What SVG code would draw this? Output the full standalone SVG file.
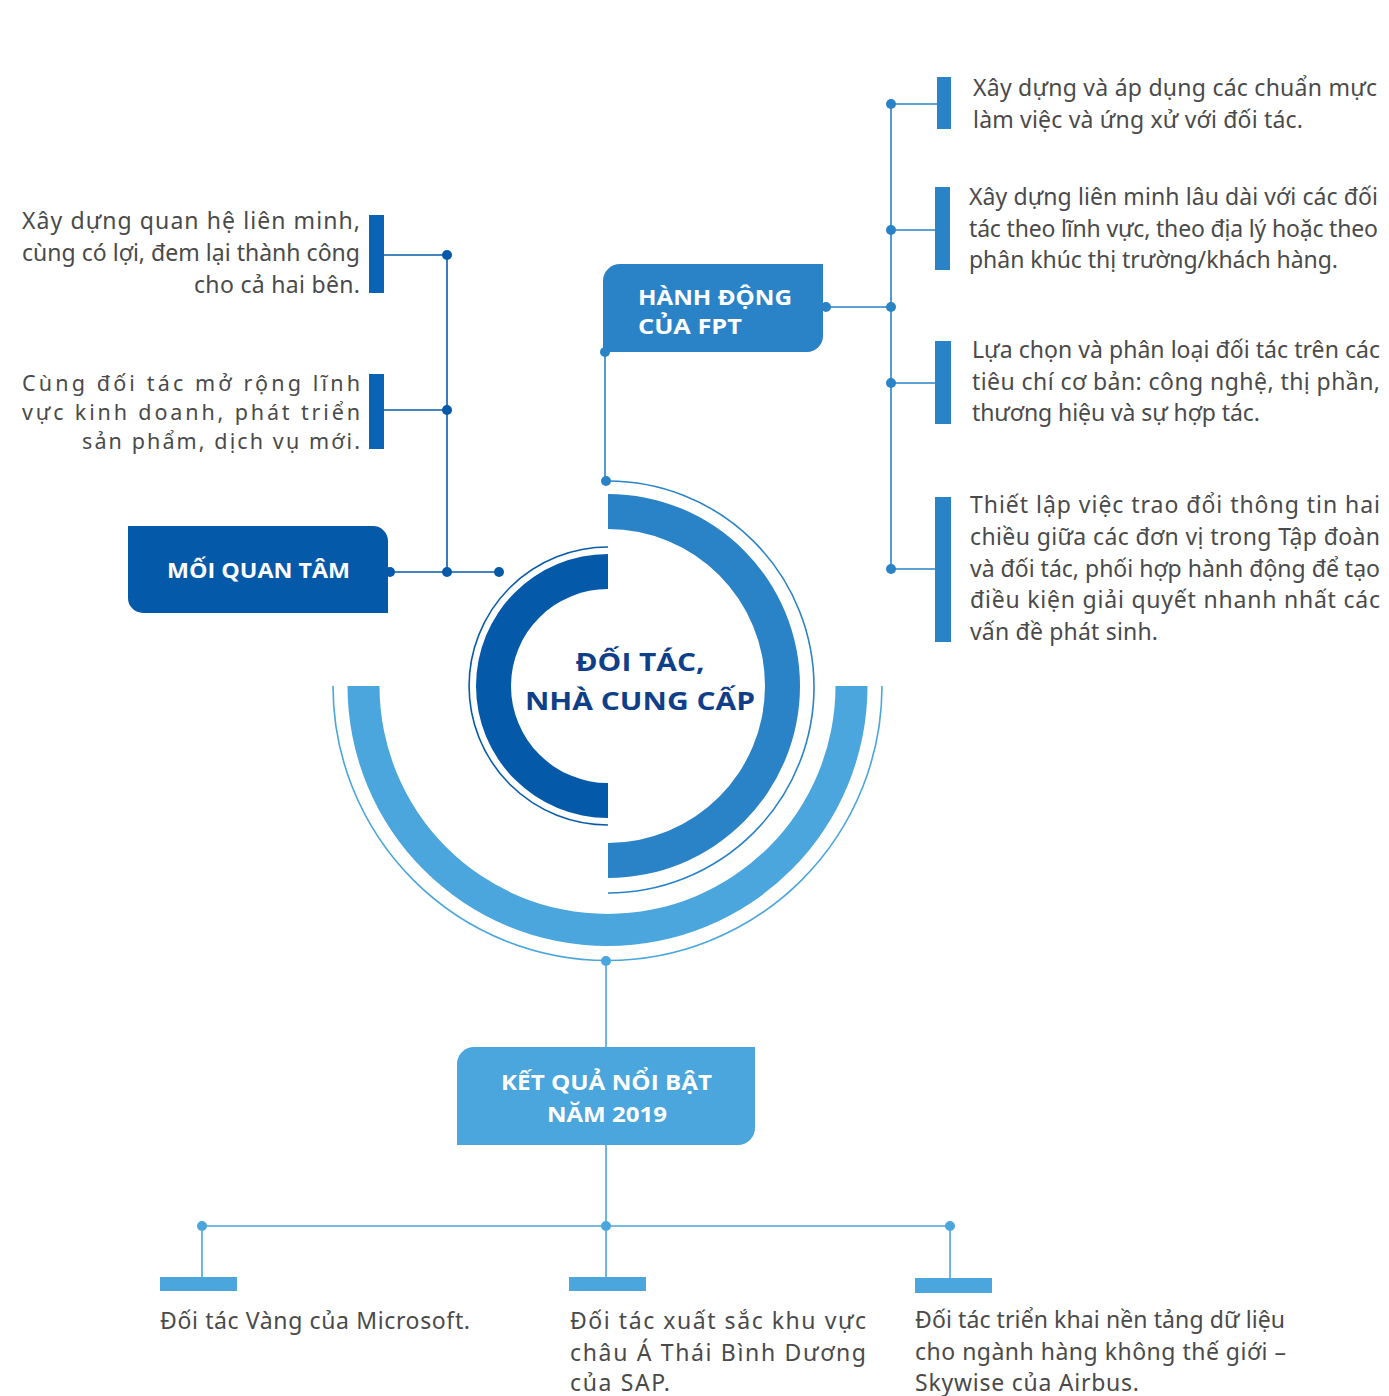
<svg xmlns="http://www.w3.org/2000/svg" width="1389" height="1396" viewBox="0 0 1389 1396">
<style>
.body{font-family:"Noto Sans","Open Sans","DejaVu Sans",sans-serif;font-size:23px;fill:#4a4a4a}
.tight{font-size:21.5px}
.head{font-family:"Open Sans","Noto Sans","DejaVu Sans",sans-serif;font-size:22px;font-weight:700;fill:#ffffff}
.center{font-family:"Open Sans","Noto Sans","DejaVu Sans",sans-serif;font-size:25px;font-weight:700;fill:#0f3f88}
.ln-d{stroke:#0a5cab;stroke-width:1.6;fill:none}
.ln-m{stroke:#2a83c7;stroke-width:1.6;fill:none}
.ln-l{stroke:#4aa6dc;stroke-width:1.6;fill:none}
.dot-d{fill:#0559a9}
.dot-m{fill:#2a83c7}
.dot-l{fill:#4aa6dc}
</style>
<rect width="1389" height="1396" fill="#ffffff"/>

<g id="center-rings">
  <path d="M608,554 A132,132 0 0 0 608,818 V783 A97,97 0 0 1 608,589 Z" fill="#0559a9"/>
  <path d="M608,547 A139,139 0 0 0 608,825" class="ln-d" stroke-width="1.3"/>
  <path d="M608,494 A192,192 0 0 1 608,878 V843 A157,157 0 0 0 608,529 Z" fill="#2a83c7"/>
  <path d="M608,481 A206,206 0 0 1 608,893" class="ln-m" stroke-width="1.3"/>
  <path d="M347.5,686 A260,260 0 0 0 867.5,686 H835.5 A228,228 0 0 1 379.5,686 Z" fill="#4aa6dc"/>
  <path d="M333,686 A274.5,274.5 0 0 0 882,686" class="ln-l" stroke-width="1.3"/>
  <text class="center" x="640" y="671" text-anchor="middle" textLength="129" lengthAdjust="spacingAndGlyphs">ĐỐI TÁC,</text>
  <text class="center" x="640" y="710" text-anchor="middle" textLength="230" lengthAdjust="spacingAndGlyphs">NHÀ CUNG CẤP</text>
</g>

<g id="connectors">
  <path class="ln-d" d="M384,255 H447 M384,410 H447 M447,255 V572 M388,572 H499"/>
  <circle class="dot-d" cx="447" cy="255" r="5"/>
  <circle class="dot-d" cx="447" cy="410" r="5"/>
  <circle class="dot-d" cx="447" cy="572" r="5"/>
  <circle class="dot-d" cx="499" cy="572" r="5"/>
  <circle class="dot-d" cx="390" cy="572" r="5"/>
  <path class="ln-m" d="M891,104 V569 M891,104 H937 M891,230 H935 M823,307 H891 M891,383 H935 M891,569 H935 M605,352 V481"/>
  <circle class="dot-m" cx="891" cy="104" r="5"/>
  <circle class="dot-m" cx="891" cy="230" r="5"/>
  <circle class="dot-m" cx="891" cy="307" r="5"/>
  <circle class="dot-m" cx="891" cy="383" r="5"/>
  <circle class="dot-m" cx="891" cy="569" r="5"/>
  <circle class="dot-m" cx="826" cy="307" r="5"/>
  <circle class="dot-m" cx="605" cy="352" r="5"/>
  <circle class="dot-m" cx="606" cy="481" r="5"/>
  <path class="ln-l" d="M606,961 V1048 M606,1145 V1278 M202,1226 H950 M202,1226 V1278 M950,1226 V1279"/>
  <circle class="dot-l" cx="606" cy="961" r="5"/>
  <circle class="dot-l" cx="202" cy="1226" r="5"/>
  <circle class="dot-l" cx="606" cy="1226" r="5"/>
  <circle class="dot-l" cx="950" cy="1226" r="5"/>
</g>

<g id="moi-quan-tam">
  <path d="M128,526 H373 A15,15 0 0 1 388,541 V613 H143 A15,15 0 0 1 128,598 Z" fill="#0559a9"/>
  <text class="head" x="167" y="578" textLength="183" lengthAdjust="spacingAndGlyphs">MỐI QUAN TÂM</text>
</g>

<g id="left-item-1">
  <rect x="369" y="215" width="15" height="78" fill="#0a63b4"/>
  <text class="body" x="22" y="229" textLength="338" lengthAdjust="spacing">Xây dựng quan hệ liên minh,</text>
  <text class="body" x="22" y="261" textLength="338" lengthAdjust="spacing">cùng có lợi, đem lại thành công</text>
  <text class="body" x="194" y="293" textLength="166" lengthAdjust="spacing">cho cả hai bên.</text>
</g>

<g id="left-item-2">
  <rect x="369" y="374" width="15" height="75" fill="#0a63b4"/>
  <text class="body tight" x="22" y="391" textLength="338" lengthAdjust="spacing">Cùng đối tác mở rộng lĩnh</text>
  <text class="body tight" x="22" y="420" textLength="338" lengthAdjust="spacing">vực kinh doanh, phát triển</text>
  <text class="body tight" x="82" y="449" textLength="278" lengthAdjust="spacing">sản phẩm, dịch vụ mới.</text>
</g>

<g id="hanh-dong">
  <path d="M620,264 H823 V336 A16,16 0 0 1 807,352 H603 V281 A17,17 0 0 1 620,264 Z" fill="#2a83c7"/>
  <text class="head" x="638" y="305" textLength="154" lengthAdjust="spacingAndGlyphs">HÀNH ĐỘNG</text>
  <text class="head" x="638" y="334" textLength="104" lengthAdjust="spacingAndGlyphs">CỦA FPT</text>
</g>

<g id="right-item-1">
  <rect x="937" y="77" width="14" height="52" fill="#2a83c7"/>
  <text class="body" x="973" y="96" textLength="404" lengthAdjust="spacing">Xây dựng và áp dụng các chuẩn mực</text>
  <text class="body" x="973" y="128" textLength="330" lengthAdjust="spacing">làm việc và ứng xử với đối tác.</text>
</g>

<g id="right-item-2">
  <rect x="935" y="187" width="15" height="83" fill="#2a83c7"/>
  <text class="body" x="969" y="205" textLength="409" lengthAdjust="spacing">Xây dựng liên minh lâu dài với các đối</text>
  <text class="body" x="969" y="237" textLength="409" lengthAdjust="spacing">tác theo lĩnh vực, theo địa lý hoặc theo</text>
  <text class="body" x="969" y="268" textLength="369" lengthAdjust="spacing">phân khúc thị trường/khách hàng.</text>
</g>

<g id="right-item-3">
  <rect x="935" y="341" width="16" height="83" fill="#2a83c7"/>
  <text class="body" x="972" y="358" textLength="408" lengthAdjust="spacing">Lựa chọn và phân loại đối tác trên các</text>
  <text class="body" x="972" y="390" textLength="408" lengthAdjust="spacing">tiêu chí cơ bản: công nghệ, thị phần,</text>
  <text class="body" x="972" y="421" textLength="288" lengthAdjust="spacing">thương hiệu và sự hợp tác.</text>
</g>

<g id="right-item-4">
  <rect x="935" y="497" width="16" height="145" fill="#2a83c7"/>
  <text class="body" x="970" y="513" textLength="410" lengthAdjust="spacing">Thiết lập việc trao đổi thông tin hai</text>
  <text class="body" x="970" y="545" textLength="410" lengthAdjust="spacing">chiều giữa các đơn vị trong Tập đoàn</text>
  <text class="body" x="970" y="577" textLength="410" lengthAdjust="spacing">và đối tác, phối hợp hành động để tạo</text>
  <text class="body" x="970" y="608" textLength="410" lengthAdjust="spacing">điều kiện giải quyết nhanh nhất các</text>
  <text class="body" x="970" y="640" textLength="188" lengthAdjust="spacing">vấn đề phát sinh.</text>
</g>

<g id="ket-qua">
  <path d="M474,1047 H755 V1128 A17,17 0 0 1 738,1145 H457 V1064 A17,17 0 0 1 474,1047 Z" fill="#4aa6dc"/>
  <text class="head" x="501" y="1090" textLength="211" lengthAdjust="spacingAndGlyphs">KẾT QUẢ NỔI BẬT</text>
  <text class="head" x="547" y="1122" textLength="120" lengthAdjust="spacingAndGlyphs">NĂM 2019</text>
</g>

<g id="bottom-item-1">
  <rect x="160" y="1277" width="77" height="14" fill="#4aa6dc"/>
  <text class="body" x="160" y="1329" textLength="310" lengthAdjust="spacing">Đối tác Vàng của Microsoft.</text>
</g>

<g id="bottom-item-2">
  <rect x="569" y="1277" width="77" height="14" fill="#4aa6dc"/>
  <text class="body" x="570" y="1329" textLength="296" lengthAdjust="spacing">Đối tác xuất sắc khu vực</text>
  <text class="body" x="570" y="1361" textLength="296" lengthAdjust="spacing">châu Á Thái Bình Dương</text>
  <text class="body" x="570" y="1391" textLength="100" lengthAdjust="spacing">của SAP.</text>
</g>

<g id="bottom-item-3">
  <rect x="915" y="1278" width="77" height="15" fill="#4aa6dc"/>
  <text class="body" x="915" y="1328" textLength="370" lengthAdjust="spacing">Đối tác triển khai nền tảng dữ liệu</text>
  <text class="body" x="915" y="1360" textLength="371" lengthAdjust="spacing">cho ngành hàng không thế giới –</text>
  <text class="body" x="915" y="1391" textLength="224" lengthAdjust="spacing">Skywise của Airbus.</text>
</g>
</svg>
